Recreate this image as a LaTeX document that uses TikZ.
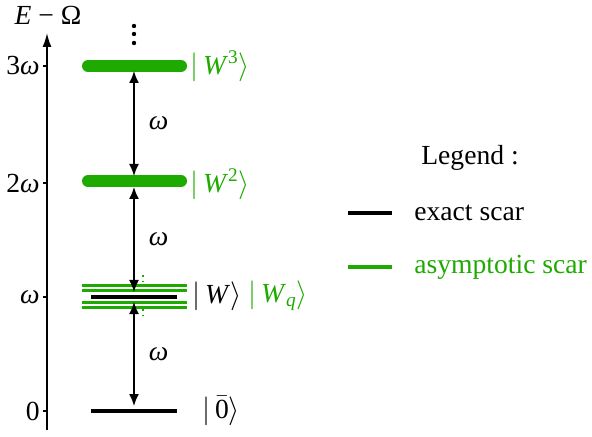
\documentclass[tikz,border=0pt]{standalone}
\usepackage{amsmath}
\usepackage{fontspec}
\setmainfont{Liberation Serif}
\usetikzlibrary{arrows.meta}
\definecolor{scargreen}{RGB}{30,170,0}
\tikzset{
  lbl/.style={font=\fontsize{13.8}{16.5}\selectfont, inner sep=1pt},
  exactlvl/.style={line width=2.3pt},
  asymlvl/.style={scargreen, line width=1.5pt},
  fatlvl/.style={scargreen, line width=6pt, line cap=round},
  gap/.style={{Latex[length=6pt,width=5pt]}-{Latex[length=6pt,width=5pt]}, line width=0.8pt}
}
\begin{document}
\begin{tikzpicture}[x=0.5pt,y=-0.5pt]
\useasboundingbox (0,0) rectangle (592,437);
% energy axis
\coordinate (axbot) at (47,430);
\coordinate (axtop) at (47,33);
\draw[-{Latex[length=7pt,width=4.5pt]}, line width=0.8pt] (axbot) -- (axtop);
\node[lbl] (axlbl) at (48,15) {\textit{E} − Ω};
% ticks
\foreach \yy/\tx in {411/0, 297/\textit{ω}, 183/2\textit{ω}, 66/3\textit{ω}} {
  \draw[line width=0.6pt] (43,\yy) -- (47,\yy);
  \node[lbl, anchor=east] at (42,\yy) {\tx};
}
% levels
\draw[fatlvl] (88,66) -- (181,66);
\draw[fatlvl] (88,181) -- (181,181);
\draw[asymlvl] (82,286) -- (187,286);
\draw[asymlvl] (82,291) -- (187,291);
\draw[asymlvl] (82,302) -- (187,302);
\draw[asymlvl] (82,307) -- (187,307);
\draw[exactlvl] (91,297) -- (177,297);
\draw[exactlvl] (91,411) -- (177,411);
\draw[scargreen, dotted, line width=0.8pt] (143,275) -- (143,284);
\draw[scargreen, dotted, line width=0.8pt] (143,309) -- (143,319);
% dots
\foreach \yy in {26,34,43} \fill (134,\yy) circle (1.1pt);
% state labels
\node[lbl, anchor=west, text=scargreen] (w3) at (188,66) {$|$\,\textit{W}$^{\text{3}}\rangle$};
\node[lbl, anchor=west, text=scargreen] (w2) at (188,184) {$|$\,\textit{W}$^{\text{2}}\rangle$};
\node[lbl, anchor=west] (w1) at (190,296) {$|$\,\textit{W}$\rangle$};
\node[lbl, anchor=west, text=scargreen] (wq) at (246,296) {$|$\,\textit{W}$_{\textit{q}}\rangle$};
\node[lbl, anchor=west] (w0) at (200,411) {$|$\,$\bar{\text{0}}\rangle$};
% gaps
\coordinate (a3) at (134,71);
\coordinate (a2t) at (134,176);
\coordinate (a2b) at (134,187);
\coordinate (a1t) at (134,292);
\coordinate (a1b) at (134,302);
\coordinate (a0) at (134,406);
\draw[gap] (a3) -- (a2t) node[lbl, midway, right=6pt] {\textit{ω}};
\draw[gap] (a2b) -- (a1t) node[lbl, midway, right=6pt] {\textit{ω}};
\draw[gap] (a1b) -- (a0) node[lbl, midway, right=6pt] {\textit{ω}};
% legend
\node[lbl] (leg) at (470,158) {Legend :};
\draw[line width=2pt] (348,213) -- (392,213);
\node[lbl, anchor=west] (lex) at (412,213) {exact scar};
\draw[scargreen, line width=2pt] (348,267) -- (392,267);
\node[lbl, anchor=west, text=scargreen] (las) at (412,267) {asymptotic scar};
\end{tikzpicture}
\end{document}
